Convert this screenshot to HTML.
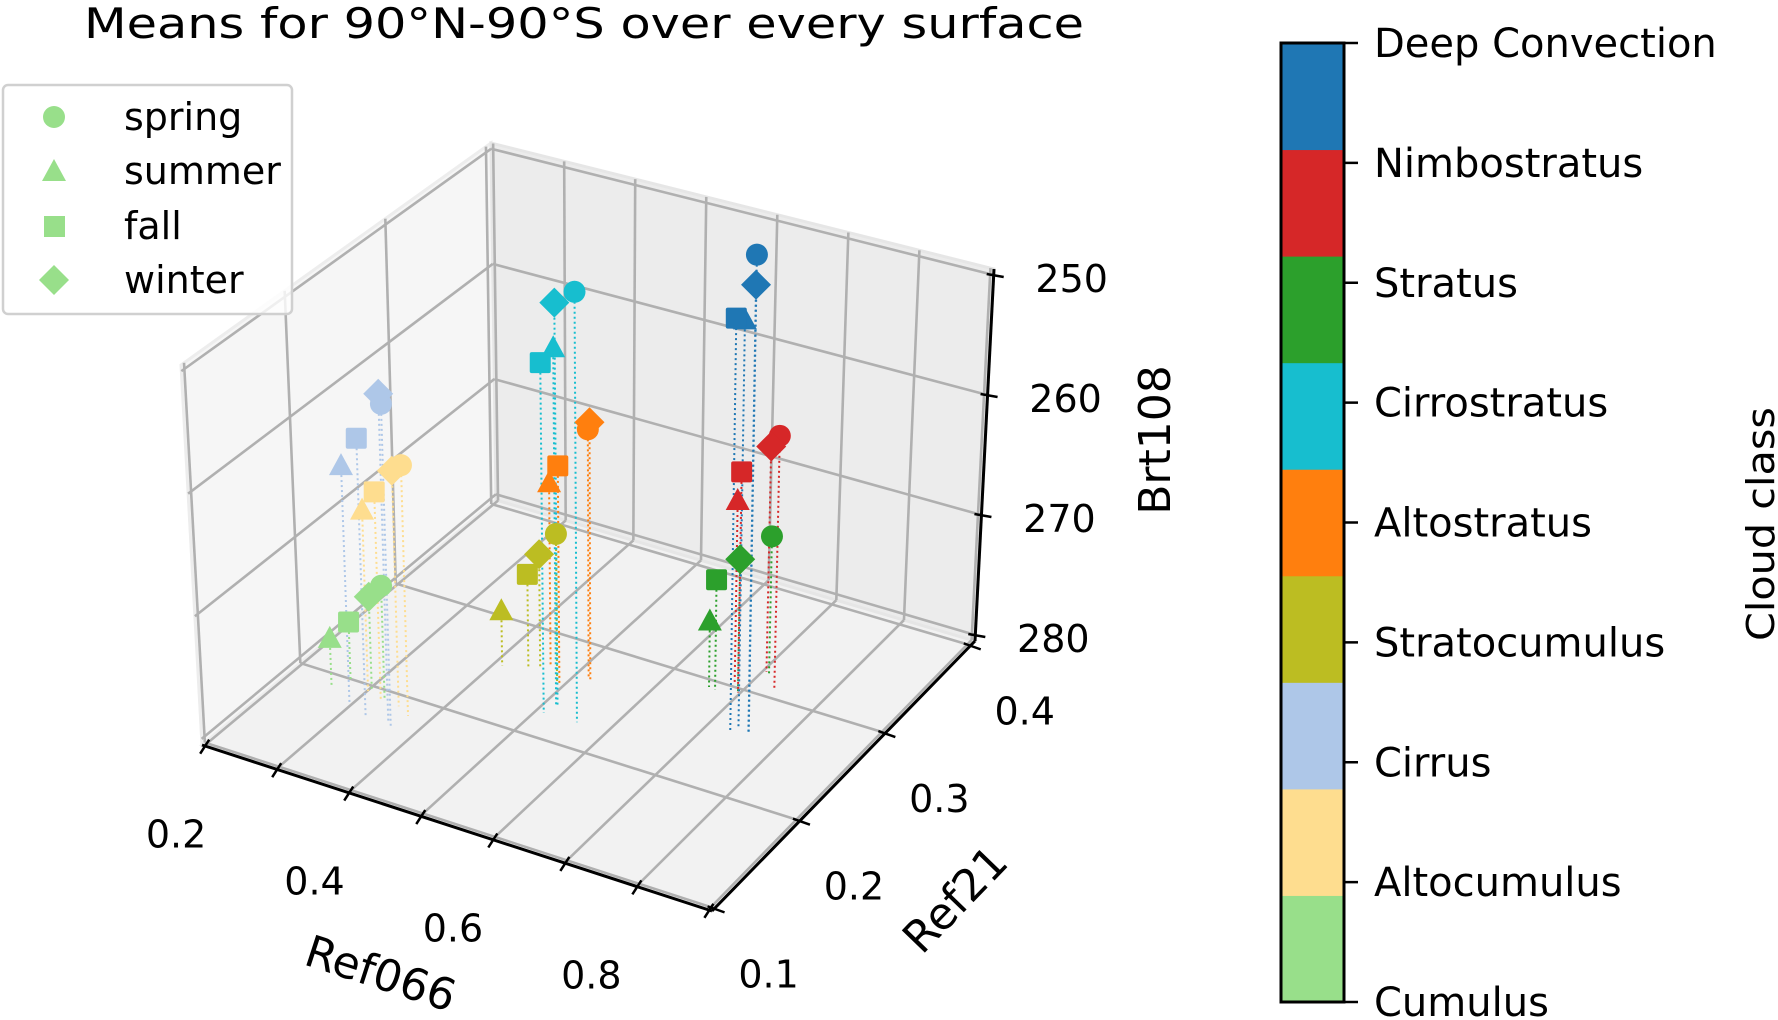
<!DOCTYPE html>
<html><head><meta charset="utf-8"><style>
html,body{margin:0;padding:0;background:#fff;}
svg{display:block;font-family:"DejaVu Sans","Liberation Sans",sans-serif;}
</style></head><body>
<svg id="chart" width="1778" height="1020" viewBox="0 0 1778 1020" xmlns="http://www.w3.org/2000/svg">
<text x="584" y="38" font-size="42" text-anchor="middle" textLength="1000" lengthAdjust="spacingAndGlyphs">Means for 90°N-90°S over every surface</text>
<g id="plot3d"></g>
<g id="legend">
<rect x="3" y="85" width="289" height="229" rx="5" fill="#fff" fill-opacity="0.8" stroke="#d0d0d0" stroke-width="2.5"/>
<circle cx="54" cy="117" r="11" fill="#98df8a"/>
<text x="124" y="130" font-size="38">spring</text>
<polygon points="54,159 66,181 42,181" fill="#98df8a"/>
<text x="124" y="184" font-size="38">summer</text>
<rect x="44" y="216" width="21" height="21" fill="#98df8a"/>
<text x="124" y="239" font-size="38">fall</text>
<polygon points="54,265 69,280 54,295 39,280" fill="#98df8a"/>
<text x="124" y="293" font-size="38">winter</text>
</g>
<g id="colorbar"></g>
<text transform="translate(1774,524) rotate(-90)" font-size="38" text-anchor="middle" textLength="234" lengthAdjust="spacingAndGlyphs">Cloud class</text>
</svg>
<script>
// ---- data (class x season [spring, summer, fall, winter]) ----
const classes = ["Cumulus","Altocumulus","Cirrus","Stratocumulus","Altostratus","Cirrostratus","Stratus","Nimbostratus","Deep Convection"];
const classColors = ["#98df8a","#fedd8f","#aec7e8","#bcbd22","#ff7f0e","#17becf","#2ca02c","#d62728","#1f77b4"];
const seasons = ["spring","summer","fall","winter"];
const ref066Vals = [
 [0.327,0.256,0.271,0.305],
 [0.372,0.301,0.327,0.351],
 [0.366,0.296,0.328,0.360],
 [0.491,0.411,0.442,0.455],
 [0.518,0.462,0.493,0.523],
 [0.557,0.517,0.511,0.519],
 [0.710,0.659,0.669,0.697],
 [0.733,0.682,0.697,0.705],
 [0.753,0.737,0.734,0.755]];
const ref21Vals = [
 [0.192,0.189,0.198,0.195],
 [0.183,0.194,0.188,0.189],
 [0.169,0.178,0.171,0.171],
 [0.254,0.255,0.260,0.263],
 [0.268,0.269,0.255,0.266],
 [0.225,0.233,0.224,0.233],
 [0.321,0.293,0.292,0.296],
 [0.309,0.304,0.296,0.322],
 [0.264,0.265,0.258,0.262]];
const brt108Vals = [
 [271.2,276.6,275.6,272.7],
 [259.9,265.5,263.2,261.1],
 [254.1,260.9,257.7,253.5],
 [268.1,275.9,272.7,271.0],
 [259.9,265.3,262.5,259.1],
 [245.2,250.9,251.7,247.2],
 [269.1,275.0,271.4,269.5],
 [259.6,265.4,262.3,261.8],
 [241.5,247.1,246.6,243.8]];
const xTicks = [0.2,0.3,0.4,0.5,0.6,0.7,0.8,0.9];
const xTickLabels = ["0.2","","0.4","","0.6","","0.8",""];
const yTicks = [0.1,0.2,0.3,0.4];
const yTickLabels = ["0.1","0.2","0.3","0.4"];
const zTicks = [250,260,270,280];
const zTickLabels = ["250","260","270","280"];

// ---- projection ----
const X0=0.197,X1=0.905,Y0=0.097,Y1=0.405,ZB=280.5,ZT=249.5;
const F0=[202,745],F1=[712,911],B1=[975,641],B0=[496,500];
const F0t=[181,365],F1t=[715,516],B1t=[994,269],B0t=[491,143];
function bil(a,b,c,d,u,v){return [a[0]*(1-u)*(1-v)+b[0]*u*(1-v)+c[0]*u*v+d[0]*(1-u)*v, a[1]*(1-u)*(1-v)+b[1]*u*(1-v)+c[1]*u*v+d[1]*(1-u)*v];}
function P(x,y,z){
 const u=(x-X0)/(X1-X0), v=(y-Y0)/(Y1-Y0), w=(ZB-z)/(ZB-ZT);
 const b=bil(F0,F1,B1,B0,u,v), t=bil(F0t,F1t,B1t,B0t,u,v);
 return [b[0]+w*(t[0]-b[0]), b[1]+w*(t[1]-b[1])];
}
const NS="http://www.w3.org/2000/svg";
const plot=document.getElementById("plot3d");
function mk(tag,attrs,parent){const e=document.createElementNS(NS,tag);for(const k in attrs)e.setAttribute(k,attrs[k]);(parent||plot).appendChild(e);return e;}
function pts(arr){return arr.map(p=>p[0].toFixed(1)+","+p[1].toFixed(1)).join(" ");}

// panes
let e;
e=mk("polygon",{points:pts([P(X0,Y0,ZB),P(X1,Y0,ZB),P(X1,Y1,ZB),P(X0,Y1,ZB)]),fill:"#f2f2f2",stroke:"#ededed","stroke-width":3});


e=mk("polygon",{points:pts([P(X0,Y0,ZB),P(X0,Y1,ZB),P(X0,Y1,ZT),P(X0,Y0,ZT)]),fill:"#f6f6f6",stroke:"#ededed","stroke-width":3});


e=mk("polygon",{points:pts([P(X0,Y1,ZB),P(X1,Y1,ZB),P(X1,Y1,ZT),P(X0,Y1,ZT)]),fill:"#ececec",stroke:"#e6e6e6","stroke-width":3});



// grid
const G={stroke:"#b0b0b0","stroke-width":2.6,fill:"none"};
function line(a,b,attrs){const o=Object.assign({x1:a[0],y1:a[1],x2:b[0],y2:b[1]},attrs);return mk("line",o);}
xTicks.forEach(t=>{
 e=line(P(t,Y0,ZB),P(t,Y1,ZB),G);
 
 
 e=line(P(t,Y1,ZB),P(t,Y1,ZT),G);
 
 
});
yTicks.forEach(t=>{
 e=line(P(X0,t,ZB),P(X1,t,ZB),G);
 
 
 e=line(P(X0,t,ZB),P(X0,t,ZT),G);
 
 
});
zTicks.forEach(t=>{
 e=line(P(X0,Y1,t),P(X1,Y1,t),G);
 
 
 e=line(P(X0,Y0,t),P(X0,Y1,t),G);
 
 
});

// axes
const A={stroke:"#000","stroke-width":3};
e=line(P(X0,Y0,ZB),P(X1,Y0,ZB),A);


e=line(P(X1,Y0,ZB),P(X1,Y1,ZB),A);


e=line(P(X1,Y1,ZB),P(X1,Y1,ZT),A);


const T={stroke:"#000","stroke-width":2.5};
xTicks.forEach((t,i)=>{
 const p=P(t,Y0,ZB);
 e=line([p[0]+5,p[1]-6],[p[0]-4,p[1]+8],T);
 
 
 if(xTickLabels[i]){
  const u=(t-X0)/(X1-X0);
  e=mk("text",{x:p[0]-28-20*u,y:p[1]+89+13,"font-size":38,"text-anchor":"middle"});
  e.textContent=xTickLabels[i];
  
  
 }
});
yTicks.forEach((t,i)=>{
 const p=P(X1,t,ZB);
 e=line([p[0]-7,p[1]-2],[p[0]+10,p[1]+4],T);
 
 
 e=mk("text",{x:p[0]+54,y:p[1]+66+13,"font-size":38,"text-anchor":"middle"});
 e.textContent=yTickLabels[i];
 
 
});
zTicks.forEach((t,i)=>{
 const p=P(X1,Y1,t);
 e=line([p[0]-7,p[1]-1],[p[0]+10,p[1]+2],T);
 
 
 e=mk("text",{x:p[0]+78,y:p[1]+4+13,"font-size":38,"text-anchor":"middle"});
 e.textContent=zTickLabels[i];
 
 
});
e=mk("text",{x:0,y:0,"font-size":44,"text-anchor":"middle",transform:"translate(376,988) rotate(18)"});
e.textContent="Ref066";


e=mk("text",{x:0,y:0,"font-size":44,"text-anchor":"middle",transform:"translate(966,910) rotate(-46)"});
e.textContent="Ref21";


e=mk("text",{x:0,y:0,"font-size":44,"text-anchor":"middle",transform:"translate(1170,440) rotate(-90)"});
e.textContent="Brt108";



// stems
classes.forEach((c,ci)=>{
 seasons.forEach((s,si)=>{
  const x=ref066Vals[ci][si],y=ref21Vals[ci][si],z=brt108Vals[ci][si];
  const a=P(x,y,z),b=P(x,y,ZB);
  e=line(a,b,{stroke:classColors[ci],"stroke-width":2,"stroke-dasharray":"2 3"});
  
  
 });
});
// markers
function marker(shape,p,color){
 const [x,y]=p;
 if(shape==="spring") return mk("circle",{cx:x,cy:y,r:11,fill:color});
 if(shape==="summer") return mk("polygon",{points:`${x},${y-12} ${x+12},${y+10} ${x-12},${y+10}`,fill:color});
 if(shape==="fall") return mk("rect",{x:x-10.5,y:y-10.5,width:21,height:21,rx:2,fill:color});
 return mk("polygon",{points:`${x},${y-15} ${x+15},${y} ${x},${y+15} ${x-15},${y}`,fill:color});
}
classes.forEach((c,ci)=>{
 seasons.forEach((s,si)=>{
  const p=P(ref066Vals[ci][si],ref21Vals[ci][si],brt108Vals[ci][si]);
  e=marker(s,p,classColors[ci]);
  
  
 });
});

// colorbar
const cb=document.getElementById("colorbar");
const CBX=1281,CBW=63,CBT=43,CBB=1002;
const segH=(CBB-CBT)/classes.length;
classes.forEach((c,i)=>{
 e=mk("rect",{x:CBX,y:CBB-(i+1)*segH,width:CBW,height:segH+0.5,fill:classColors[i]},cb);
 
 
});
e=mk("rect",{x:CBX,y:CBT,width:CBW,height:CBB-CBT,fill:"none",stroke:"#000","stroke-width":3},cb);


const tickStep=(CBB-CBT)/(classes.length-1);
classes.forEach((c,i)=>{
 const y=CBB-i*tickStep;
 e=mk("line",{x1:CBX+CBW,y1:y,x2:CBX+CBW+14,y2:y,stroke:"#000","stroke-width":2.5},cb);
 
 
 e=mk("text",{x:1374,y:y+14,"font-size":40},cb);
 e.textContent=c;
 
 
});
</script>
</body></html>
